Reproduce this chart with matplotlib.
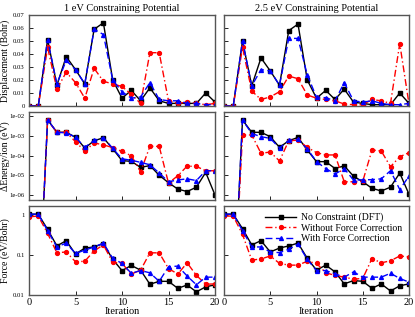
import matplotlib
matplotlib.use('Agg')
import matplotlib.pyplot as plt
import numpy as np

plt.rcParams['font.family'] = ['Liberation Serif', 'DejaVu Serif']
plt.rcParams['font.size'] = 6

iters = list(range(21))

# displacement (Bohr)
disp_dft_1   = [0, 0, 0.051, 0.016, 0.038, 0.028, 0.017, 0.059, 0.064, 0.020, 0.006, 0.012, 0.004, 0.014, 0.004, 0.002, 0.002, 0.002, 0.002, 0.010, 0.003]
disp_nofc_1  = [0, 0, 0.045, 0.013, 0.026, 0.018, 0.006, 0.029, 0.019, 0.017, 0.015, 0.009, 0.002, 0.041, 0.041, 0.004, 0.002, 0.003, 0.002, 0.001, 0.002]
disp_fc_1    = [0, 0, 0.051, 0.017, 0.035, 0.028, 0.017, 0.059, 0.055, 0.020, 0.011, 0.006, 0.007, 0.018, 0.005, 0.004, 0.004, 0.002, 0.002, 0.001, 0.001]
disp_dft_25  = [0, 0, 0.050, 0.0155, 0.037, 0.027, 0.016, 0.058, 0.063, 0.020, 0.006, 0.012, 0.005, 0.013, 0.003, 0.002, 0.001, 0.001, 0.001, 0.010, 0.002]
disp_nofc_25 = [0, 0, 0.045, 0.0115, 0.005, 0.007, 0.011, 0.023, 0.021, 0.0085, 0.006, 0.005, 0.004, 0.0015, 0.001, 0.001, 0.005, 0.004, 0.002, 0.048, 0.0015]
disp_fc_25   = [0, 0, 0.050, 0.0155, 0.028, 0.027, 0.016, 0.052, 0.052, 0.024, 0.0067, 0.0064, 0.004, 0.018, 0.004, 0.003, 0.004, 0.002, 0.001, 0.001, 0.002]

# energy change per ion (eV)
en_dft_1   = [1e-12, 1e-12, 6.5e-3, 1.5e-3, 1.5e-3, 8.5e-4, 2.4e-4, 5.6e-4, 7.9e-4, 2.2e-4, 5.5e-5, 5.1e-5, 2.5e-5, 3.1e-5, 1.0e-5, 4.2e-6, 2.0e-6, 1.5e-6, 2.5e-6, 1.4e-5, 1.0e-6]
en_nofc_1  = [1e-12, 1e-12, 6.0e-3, 1.5e-3, 1.5e-3, 5.0e-4, 1.7e-4, 4.3e-4, 3.5e-4, 2.5e-4, 1.6e-4, 9.8e-5, 1.5e-5, 2.9e-4, 2.9e-4, 4.0e-6, 9.5e-6, 2.9e-5, 2.8e-5, 1.7e-5, 1.7e-5]
en_fc_1    = [1e-12, 1e-12, 6.5e-3, 1.5e-3, 1.4e-3, 8.5e-4, 2.6e-4, 5.8e-4, 8.0e-4, 2.3e-4, 6.8e-5, 5.8e-5, 4.5e-5, 3.4e-5, 1.3e-5, 4.7e-6, 5.8e-6, 6.6e-6, 5.4e-6, 1.7e-5, 1.7e-5]
en_dft_25  = [1e-12, 1e-12, 6.3e-3, 1.5e-3, 1.5e-3, 9.0e-4, 2.6e-4, 5.6e-4, 8.3e-4, 1.9e-4, 4.9e-5, 4.9e-5, 2.2e-5, 3.0e-5, 9.0e-6, 4.7e-6, 2.2e-6, 1.6e-6, 2.5e-6, 1.3e-5, 1.1e-6]
en_nofc_25 = [1e-12, 1e-12, 1.1e-3, 1.1e-3, 1.3e-4, 1.5e-4, 5.3e-5, 5.6e-4, 6.0e-4, 2.6e-4, 1.4e-4, 1.07e-4, 1.07e-4, 4.7e-6, 4.7e-6, 5.0e-6, 1.9e-4, 1.7e-4, 2.7e-5, 8.7e-5, 1.4e-4]
en_fc_25   = [1e-12, 1e-12, 6.3e-3, 1.3e-3, 9.0e-4, 7.4e-4, 2.4e-4, 5.8e-4, 6.5e-4, 2.2e-4, 4.9e-5, 2.2e-5, 1.15e-5, 2.2e-5, 5.7e-6, 5.9e-6, 6.0e-6, 6.6e-6, 1.7e-5, 1.9e-6, 9.0e-6]

# force (eV/Bohr)
f_dft_1   = [1.06, 1.06, 0.44, 0.17, 0.23, 0.106, 0.15, 0.16, 0.195, 0.078, 0.041, 0.055, 0.042, 0.0186, 0.022, 0.022, 0.0147, 0.0178, 0.012, 0.016, 0.018]
f_nofc_1  = [0.91, 0.95, 0.35, 0.114, 0.12, 0.068, 0.07, 0.128, 0.18, 0.066, 0.062, 0.0335, 0.042, 0.114, 0.114, 0.046, 0.0335, 0.064, 0.031, 0.0186, 0.019]
f_fc_1    = [1.06, 1.06, 0.41, 0.16, 0.20, 0.11, 0.133, 0.16, 0.20, 0.083, 0.062, 0.035, 0.041, 0.036, 0.022, 0.051, 0.053, 0.030, 0.018, 0.028, 0.028]
f_dft_25  = [1.06, 1.06, 0.46, 0.18, 0.23, 0.12, 0.15, 0.17, 0.20, 0.083, 0.042, 0.056, 0.038, 0.019, 0.023, 0.022, 0.0147, 0.019, 0.0126, 0.017, 0.019]
f_nofc_25 = [0.95, 0.95, 0.33, 0.075, 0.08, 0.095, 0.062, 0.056, 0.056, 0.07, 0.062, 0.036, 0.031, 0.028, 0.025, 0.026, 0.082, 0.064, 0.072, 0.095, 0.09]
f_fc_25   = [1.06, 1.06, 0.41, 0.16, 0.16, 0.12, 0.115, 0.14, 0.19, 0.078, 0.041, 0.041, 0.034, 0.028, 0.038, 0.028, 0.028, 0.028, 0.035, 0.026, 0.021]

labels = ['No Constraint (DFT)', 'Without Force Correction', 'With Force Correction']
styles = [dict(color='black', ls='-', marker='s'),
          dict(color='red', ls=(0, (5, 2, 1, 2)), marker='o'),
          dict(color='blue', ls=(0, (5, 2.5)), marker='^')]

data = [[(disp_dft_1, disp_nofc_1, disp_fc_1), (disp_dft_25, disp_nofc_25, disp_fc_25)],
        [(en_dft_1, en_nofc_1, en_fc_1), (en_dft_25, en_nofc_25, en_fc_25)],
        [(f_dft_1, f_nofc_1, f_fc_1), (f_dft_25, f_nofc_25, f_fc_25)]]

W, H = 415, 317
fig = plt.figure(figsize=(W/100, H/100), dpi=100)
cols = [(29, 215), (224, 409)]
rows = [(15, 106), (112, 200), (206, 295)]

ylabels = ['Displacement (Bohr)', '\u0394Energy/ion (eV)', 'Force (eV/Bohr)']
titles = ['1 eV Constraining Potential', '2.5 eV Constraining Potential']

for r, (yt, yb) in enumerate(rows):
    for c, (xl, xr) in enumerate(cols):
        ax = fig.add_axes([xl/W, 1-yb/H, (xr-xl)/W, (yb-yt)/H])
        for series, lab, st in zip(data[r][c], labels, styles):
            ax.plot(iters, series, lw=1.0, ms=2.8, label=lab, **st)
        ax.set_xlim(0, 20)
        ax.set_xticks([0, 5, 10, 15, 20])
        if r == 0:
            ax.set_ylim(0, 0.07)
            ax.set_yticks([0, 0.01, 0.02, 0.03, 0.04, 0.05, 0.06, 0.07])
            ax.set_yticklabels(['0', '0.01', '0.02', '0.03', '0.04', '0.05', '0.06', '0.07'])
        elif r == 1:
            ax.set_yscale('log')
            ax.set_ylim(5.6e-7, 1.6e-2)
            ax.set_yticks([1e-6, 1e-5, 1e-4, 1e-3, 1e-2])
            ax.set_yticklabels(['1e-06', '1e-05', '1e-04', '1e-03', '1e-02'])
            ax.minorticks_off()
        else:
            ax.set_yscale('log')
            ax.set_ylim(0.01, 1.7)
            ax.set_yticks([0.01, 0.1, 1])
            ax.set_yticklabels(['0.01', '0.1', '1'])
            ax.minorticks_off()
        ax.tick_params(direction='in', length=3, width=0.6, labelsize=4.8, pad=3)
        for s in ax.spines.values():
            s.set_color('#555555')
            s.set_linewidth(1.0)
        if c == 1:
            ax.set_yticklabels([])
        else:
            ax.set_ylabel(ylabels[r], fontsize=7)
            ax.yaxis.set_label_coords(-19.5/(xr-xl), 0.5)
        if r < 2:
            ax.set_xticklabels([])
        else:
            ax.set_xlabel('Iteration', fontsize=7.5, labelpad=0)
            ax.tick_params(axis='x', labelsize=7.5, pad=2)
        if r == 0:
            ax.set_title(titles[c], fontsize=7.5, pad=3)
        if r == 2 and c == 1:
            ax.legend(loc='upper right', frameon=False, fontsize=7, handlelength=3.2,
                      labelspacing=0.15, borderaxespad=0.3, handletextpad=0.5)

plt.savefig('out.png', dpi=100)
